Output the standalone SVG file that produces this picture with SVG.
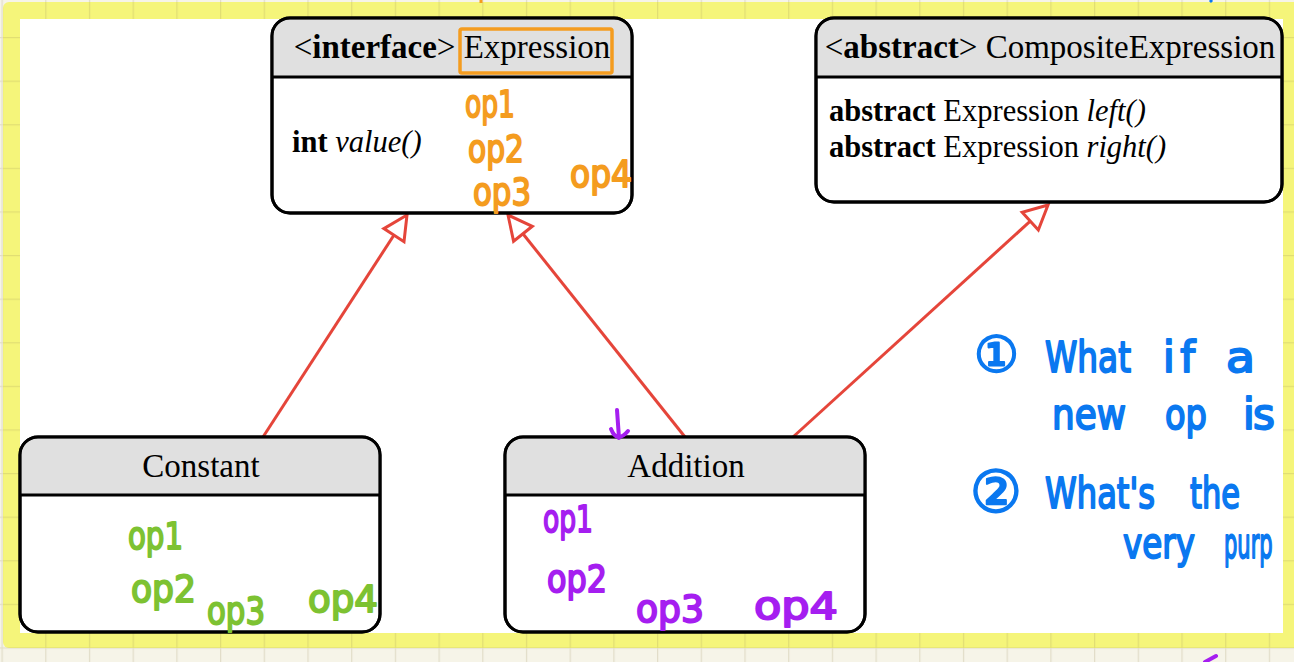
<svg xmlns="http://www.w3.org/2000/svg" width="1294" height="662" viewBox="0 0 1294 662">
  <style>
    .hdr { fill: #e0e0e0; stroke: none; }
    .frame { fill: #ffffff; stroke: #000; stroke-width: 3; }
    .div { stroke: #000; stroke-width: 3; }
    .title { font-family: "Liberation Serif", "Times New Roman", serif; font-size: 33px; fill: #000; text-anchor: middle; }
    .member { font-family: "Liberation Serif", "Times New Roman", serif; font-size: 30.5px; fill: #000; }
    .b { font-weight: bold; }
    .i { font-style: italic; }
    .edge { fill: none; stroke: #e5453a; stroke-width: 3; marker-end: url(#hollow); }
    .ink { font-family: "DejaVu Sans", "Noto Sans", "Noto Sans CJK SC", sans-serif; stroke-width: 2; stroke-linejoin: round; }
    .ink-s { font-size: 38px; }
    .orange { fill: #f49c1f; stroke: #f49c1f; }
    .green { fill: #7dc232; stroke: #7dc232; }
    .purple { fill: #a51ef0; stroke: #a51ef0; }
    .blue { fill: #0a78f0; stroke: #0a78f0; font-size: 42px; }
  </style>
  <defs>
    <pattern id="grid" width="43.7" height="43.6" x="1.5" y="37" patternUnits="userSpaceOnUse">
      <path d="M0.5,0 V43.6 M0,0.5 H43.7" stroke="#9a8f5a" stroke-opacity="0.22" stroke-width="1.5" fill="none"/>
    </pattern>
    <marker id="hollow" viewBox="-30 -15 32 30" refX="-2" refY="0" markerWidth="32" markerHeight="30" markerUnits="userSpaceOnUse" orient="auto">
      <path d="M-2,0 L-26,-12 L-26,12 Z" fill="#ffffff" stroke="#e5453a" stroke-width="3"/>
    </marker>
  </defs>

  <!-- page background, highlighted frame and grid -->
  <rect x="0" y="0" width="1294" height="662" fill="#f6f4e8"/>
  <rect x="3" y="2" width="1300" height="646" rx="6" fill="#f5f57a"/>
  <rect x="0" y="0" width="1294" height="662" fill="url(#grid)"/>
  <rect x="20" y="19" width="1263" height="614" fill="#ffffff"/>

  <!-- generalisation connectors -->
  <g id="connectors">
    <path class="edge" d="M263,437 L407,215"/>
    <path class="edge" d="M685,437 L508,215"/>
    <path class="edge" d="M793,437 L1048,205"/>
  </g>

  <!-- Expression interface -->
  <g id="expression">
    <rect class="frame" x="272" y="18" width="360" height="195" rx="18"/>
    <path class="hdr" d="M273.5,77 V36 A16.5,16.5 0 0 1 290,19.5 H614 A16.5,16.5 0 0 1 630.5,36 V77 Z"/>
    <line class="div" x1="272" y1="77" x2="632" y2="77"/>
    <rect x="272" y="18" width="360" height="195" rx="18" fill="none" stroke="#000" stroke-width="3"/>
    <text class="title" x="452" y="58">&lt;<tspan class="b">interface</tspan>&gt; Expression</text>
    <rect x="460" y="29" width="152" height="44" rx="2" fill="none" stroke="#f49c1f" stroke-width="3.5"/>
    <text class="member" x="292" y="152"><tspan class="b">int</tspan> <tspan class="i">value()</tspan></text>
  </g>

  <!-- CompositeExpression abstract class -->
  <g id="composite-expression">
    <rect class="frame" x="816" y="18" width="466" height="184" rx="18"/>
    <path class="hdr" d="M817.5,77 V36 A16.5,16.5 0 0 1 834,19.5 H1264 A16.5,16.5 0 0 1 1280.5,36 V77 Z"/>
    <line class="div" x1="816" y1="77" x2="1282" y2="77"/>
    <rect x="816" y="18" width="466" height="184" rx="18" fill="none" stroke="#000" stroke-width="3"/>
    <text class="title" x="1050" y="58">&lt;<tspan class="b">abstract</tspan>&gt; CompositeExpression</text>
    <text class="member" x="829" y="121"><tspan class="b">abstract</tspan> Expression <tspan class="i">left()</tspan></text>
    <text class="member" x="829" y="157"><tspan class="b">abstract</tspan> Expression <tspan class="i">right()</tspan></text>
  </g>

  <!-- Constant class -->
  <g id="constant">
    <rect class="frame" x="20" y="437" width="360" height="195" rx="18"/>
    <path class="hdr" d="M21.5,495 V455 A16.5,16.5 0 0 1 38,438.5 H362 A16.5,16.5 0 0 1 378.5,455 V495 Z"/>
    <line class="div" x1="20" y1="495" x2="380" y2="495"/>
    <rect x="20" y="437" width="360" height="195" rx="18" fill="none" stroke="#000" stroke-width="3"/>
    <text class="title" x="201" y="477">Constant</text>
  </g>

  <!-- Addition class -->
  <g id="addition">
    <rect class="frame" x="505" y="437" width="360" height="195" rx="18"/>
    <path class="hdr" d="M506.5,495 V455 A16.5,16.5 0 0 1 523,438.5 H847 A16.5,16.5 0 0 1 863.5,455 V495 Z"/>
    <line class="div" x1="505" y1="495" x2="865" y2="495"/>
    <rect x="505" y="437" width="360" height="195" rx="18" fill="none" stroke="#000" stroke-width="3"/>
    <text class="title" x="686" y="477">Addition</text>
  </g>

  <!-- pen notes: operations per class -->
  <g id="notes-expression" class="ink ink-s orange">
    <text x="465" y="117" textLength="50" lengthAdjust="spacingAndGlyphs">op1</text>
    <text x="468" y="162" textLength="56" lengthAdjust="spacingAndGlyphs">op2</text>
    <text x="473" y="205" textLength="58" lengthAdjust="spacingAndGlyphs">op3</text>
    <text x="570" y="187" textLength="62" lengthAdjust="spacingAndGlyphs">op4</text>
  </g>
  <g id="notes-constant" class="ink ink-s green">
    <text x="128" y="549" textLength="55" lengthAdjust="spacingAndGlyphs">op1</text>
    <text x="131" y="602" textLength="65" lengthAdjust="spacingAndGlyphs">op2</text>
    <text x="207" y="624" textLength="58" lengthAdjust="spacingAndGlyphs">op3</text>
    <text x="308" y="612" textLength="70" lengthAdjust="spacingAndGlyphs">op4</text>
  </g>
  <g id="notes-addition" class="ink ink-s purple">
    <path d="M617,410 L619,438 M611,429 Q617,444 628,431" fill="none" stroke-width="4" stroke-linecap="round"/>
    <text x="543" y="532" textLength="50" lengthAdjust="spacingAndGlyphs">op1</text>
    <text x="547" y="592" textLength="60" lengthAdjust="spacingAndGlyphs">op2</text>
    <text x="636" y="622" textLength="68" lengthAdjust="spacingAndGlyphs">op3</text>
    <text x="754" y="619" textLength="84" lengthAdjust="spacingAndGlyphs">op4</text>
  </g>

  <!-- pen notes: questions -->
  <g id="notes-questions" class="ink blue">
    <text x="974" y="372" font-size="50">①</text>
    <text x="1045" y="372" textLength="86" lengthAdjust="spacingAndGlyphs">What</text>
    <text x="1163" y="372" textLength="32" lengthAdjust="spacing">if</text>
    <text x="1226" y="372" textLength="29" lengthAdjust="spacingAndGlyphs">a</text>
    <text x="1052" y="429" textLength="74" lengthAdjust="spacingAndGlyphs">new</text>
    <text x="1165" y="429" textLength="42" lengthAdjust="spacingAndGlyphs">op</text>
    <text x="1243" y="429" textLength="32" lengthAdjust="spacing">is</text>
    <text x="970" y="512" font-size="58">②</text>
    <text x="1045" y="508" textLength="110" lengthAdjust="spacingAndGlyphs">What's</text>
    <text x="1190" y="508" textLength="50" lengthAdjust="spacingAndGlyphs">the</text>
    <text x="1123" y="558" textLength="72" lengthAdjust="spacingAndGlyphs">very</text>
    <text transform="translate(1224,558) scale(0.5,1)" x="0" y="0">purp</text>
  </g>

  <!-- stray pen marks at the sheet edges -->
  <path d="M481,0 V3" stroke="#f49c1f" stroke-width="3" fill="none"/>
  <path d="M1210,0 L1212,2" stroke="#0a78f0" stroke-width="3" fill="none"/>
  <path d="M1205,662 L1216,656" stroke="#a51ef0" stroke-width="4" stroke-linecap="round" fill="none"/>
</svg>
